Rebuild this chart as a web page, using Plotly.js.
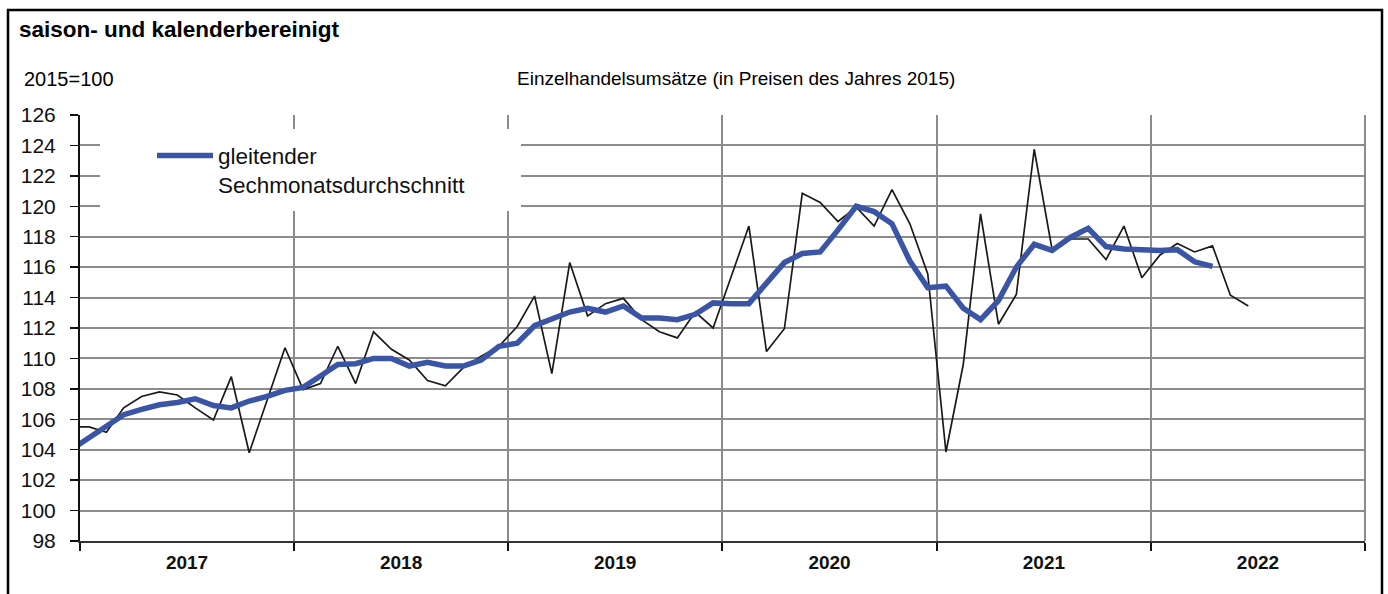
<!DOCTYPE html>
<html>
<head>
<meta charset="utf-8">
<script src="https://cdn.plot.ly/plotly-3.0.1.min.js"></script>
<style>html,body{margin:0;padding:0;background:#fff;}#chart{width:1388px;height:594px;}</style>
</head>
<body>
<div id="chart"></div>
<script>
// ---- data (monthly, Dec 2016 onward) ----
const startMonth = '2016-12';
const monthlyValues = [105.5,
  105.5, 105.15, 106.75, 107.5, 107.8, 107.6, 106.75, 105.95, 108.8, 103.8, 107.3, 110.7,
  107.95, 108.35, 110.8, 108.35, 111.75, 110.6, 109.9, 108.55, 108.2, 109.4, 110.15, 110.8,
  112.1, 114.1, 109.0, 116.3, 112.8, 113.6, 113.95, 112.55, 111.75, 111.35, 113.05, 112.0,
  115.4, 118.7, 110.45, 111.95, 120.85, 120.25, 119.0, 119.95, 118.7, 121.1, 118.85, 115.55,
  103.85, 109.6, 119.5, 112.25, 114.2, 123.75, 117.15, 117.85, 117.85, 116.5, 118.7, 115.3,
  116.8, 117.55, 117.0, 117.4, 114.15, 113.45];
const movingAverage = [104.0,
  104.8, 105.5, 106.3, 106.65, 106.95, 107.1, 107.35, 106.9, 106.75, 107.2, 107.5, 107.9,
  108.1, 108.85, 109.6, 109.65, 110.0, 110.0, 109.5, 109.75, 109.5, 109.5, 109.9, 110.8,
  111.0, 112.15, 112.55, 113.05, 113.3, 113.05, 113.45, 112.65, 112.65, 112.55, 112.9, 113.65,
  113.6, 113.6, 114.95, 116.3, 116.9, 117.0, 118.45, 120.0, 119.65, 118.85, 116.4, 114.65,
  114.75, 113.3, 112.55, 113.8, 116.0, 117.5, 117.1, 117.95, 118.55, 117.35, 117.2, 117.15,
  117.1, 117.15, 116.35, 116.05];
const seriesName = 'gleitender<br>Sechmonatsdurchschnitt';
const chartTitle = 'saison- und kalenderbereinigt';
const unitLabel = '2015=100';
const subTitle = 'Einzelhandelsumsätze (in Preisen des Jahres 2015)';
const yTicks = [98,100,102,104,106,108,110,112,114,116,118,120,122,124,126];

function monthList(start, n) {
  let [y, m] = start.split('-').map(Number);
  const out = [];
  for (let i = 0; i < n; i++) {
    out.push(y + '-' + String(m).padStart(2, '0'));
    m++; if (m > 12) { m = 1; y++; }
  }
  return out;
}
const months = monthList(startMonth, monthlyValues.length);

// ---- layout geometry ----
const W = 1388, H = 594;
const M = {l: 80, r: 23, t: 115, b: 53};
const PW = W - M.l - M.r, PH = H - M.t - M.b;
const px = x => (x - M.l) / PW;
const py = y => (H - M.b - y) / PH;

const FONT = 'Liberation Sans, Arial, sans-serif';

const traces = [
  {
    x: months, y: monthlyValues, type: 'scatter', mode: 'lines',
    xperiod: 'M1', xperiodalignment: 'middle',
    line: {color: '#1a1a1a', width: 1.7}, showlegend: false, name: 'Monatswerte'
  },
  {
    x: months.slice(0, movingAverage.length), y: movingAverage, type: 'scatter', mode: 'lines',
    xperiod: 'M1', xperiodalignment: 'middle',
    line: {color: '#3a54a6', width: 5.5}, showlegend: false, name: seriesName
  }
];

const layout = {
  width: W, height: H,
  margin: M,
  paper_bgcolor: '#fff', plot_bgcolor: '#fff',
  showlegend: false,
  font: {family: FONT, color: '#111'},
  xaxis: {
    type: 'date', range: ['2017-01-01', '2023-01-01'],
    tick0: '2017-01-01', dtick: 'M12', tickformat: '%Y', ticklabelmode: 'period',
    ticks: 'outside', ticklen: 8, tickwidth: 1.5, tickcolor: '#111',
    showline: true, linecolor: '#333', linewidth: 2,
    showgrid: true, gridcolor: '#8c8c8c', gridwidth: 2,
    tickfont: {family: FONT, size: 19, color: '#111', weight: 'bold'},
    ticklabelstandoff: -5,
    fixedrange: true
  },
  yaxis: {
    range: [98, 126], tickvals: yTicks,
    ticks: 'outside', ticklen: 8, tickwidth: 1.5, tickcolor: '#111',
    showline: true, linecolor: '#111', linewidth: 2,
    showgrid: true, gridcolor: '#8c8c8c', gridwidth: 2,
    zeroline: false,
    tickfont: {family: FONT, size: 21, color: '#111'},
    ticklabelstandoff: 10,
    fixedrange: true
  },
  shapes: [
    // right edge of plot area
    {type: 'line', xref: 'paper', yref: 'paper', layer: 'below',
     x0: 1, x1: 1, y0: 0, y1: 1, line: {color: '#8c8c8c', width: 2}},
    // legend background
    {type: 'rect', xref: 'paper', yref: 'paper', layer: 'above',
     x0: px(100), x1: px(521), y0: py(211), y1: py(129),
     fillcolor: '#fff', line: {width: 0}},
    // legend line sample
    {type: 'line', xref: 'paper', yref: 'paper', layer: 'above',
     x0: px(157), x1: px(213), y0: py(155.5), y1: py(155.5),
     line: {color: '#3a54a6', width: 5.5}},
    // outer frame
    {type: 'rect', xref: 'paper', yref: 'paper', layer: 'above',
     x0: px(8), x1: px(1382), y0: py(620), y1: py(10),
     fillcolor: 'rgba(0,0,0,0)', line: {color: '#000', width: 2.5}}
  ],
  annotations: [
    {text: chartTitle, xref: 'paper', yref: 'paper', x: px(17), y: py(30),
     xanchor: 'left', yanchor: 'middle', showarrow: false,
     font: {family: FONT, size: 22.5, color: '#000', weight: 'bold'}},
    {text: unitLabel, xref: 'paper', yref: 'paper', x: px(22), y: py(79),
     xanchor: 'left', yanchor: 'middle', showarrow: false,
     font: {family: FONT, size: 20, color: '#000'}},
    {text: subTitle, xref: 'paper', yref: 'paper', x: px(736), y: py(79),
     xanchor: 'center', yanchor: 'middle', showarrow: false,
     font: {family: FONT, size: 19, color: '#000'}},
    {text: seriesName, xref: 'paper', yref: 'paper', x: px(216), y: py(171),
     xanchor: 'left', yanchor: 'middle', align: 'left', showarrow: false,
     font: {family: FONT, size: 22.5, color: '#111'}}
  ]
};

Plotly.newPlot('chart', traces, layout, {displayModeBar: false, staticPlot: true});
</script>
</body>
</html>
